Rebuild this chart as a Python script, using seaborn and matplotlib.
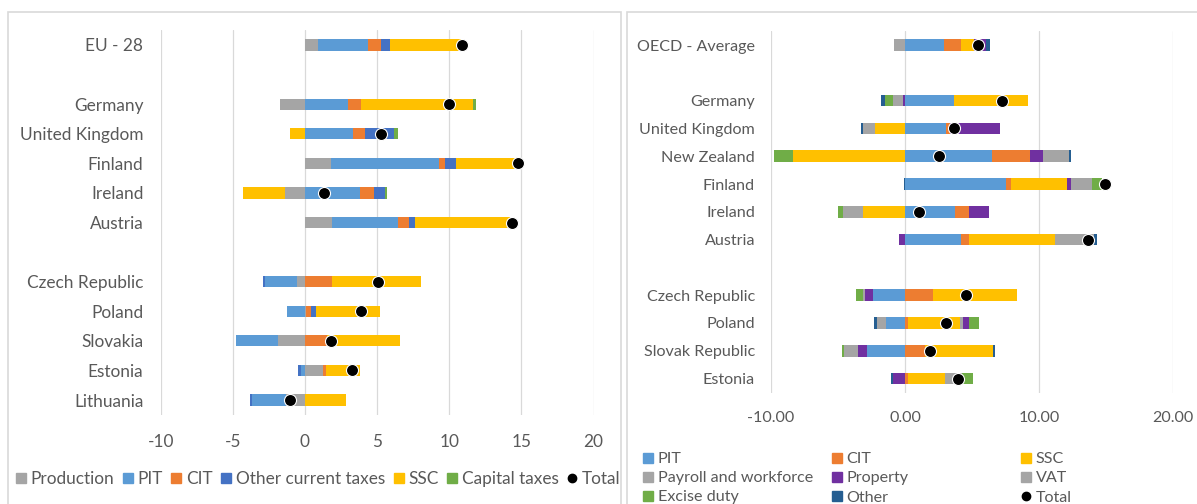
import numpy as np
import matplotlib
matplotlib.use("Agg")
import matplotlib.pyplot as plt
from matplotlib.lines import Line2D
from matplotlib.patches import Rectangle
import seaborn as sns

# ---------------- EU panel data ----------------
eu_groups = [
    ["EU - 28"],
    ["Germany", "United Kingdom", "Finland", "Ireland", "Austria"],
    ["Czech Republic", "Poland", "Slovakia", "Estonia", "Lithuania"],
]
eu_series = ["Production", "PIT", "CIT", "Other current taxes", "SSC", "Capital taxes"]
eu_production = [0.93, -1.75, 0.00, 1.83, -1.39, 1.89, -0.57, 0.08, -1.89, 1.26, -1.34]
eu_pit = [3.47, 2.98, 3.36, 7.49, 3.80, 4.56, -2.19, -1.28, -2.90, -0.25, -2.30]
eu_cit = [0.90, 0.90, 0.82, 0.38, 1.01, 0.74, 1.89, 0.35, 1.53, 0.19, 0.00]
eu_other = [0.57, 0.00, 2.00, 0.77, 0.71, 0.44, -0.14, 0.30, 0.00, -0.25, -0.16]
eu_ssc = [5.00, 7.79, -1.04, 4.18, -2.90, 6.61, 6.12, 4.48, 5.05, 2.35, 2.81]
eu_capital = [0.05, 0.19, 0.25, 0.00, 0.19, 0.00, 0.00, 0.00, 0.00, 0.00, 0.00]
eu_total = [10.90, 10.00, 5.30, 14.75, 1.34, 14.37, 5.08, 3.88, 1.78, 3.25, -1.04]
eu_ticks = [-10, -5, 0, 5, 10, 15, 20]
eu_tick_labels = ["-10", "-5", "0", "5", "10", "15", "20"]

# ---------------- OECD panel data ----------------
oecd_groups = [
    ["OECD - Average"],
    ["Germany", "United Kingdom", "New Zealand", "Finland", "Ireland", "Austria"],
    ["Czech Republic", "Poland", "Slovak Republic", "Estonia"],
]
oecd_series = ["PIT", "CIT", "SSC", "Payroll and workforce", "Property", "VAT",
               "Excise duty", "Other"]
oecd_pit = [2.91, 3.66, 3.03, 6.47, 7.51, 3.71, 4.15, -2.37, -1.43, -2.87, 0.00]
oecd_cit = [1.24, 0.00, 0.35, 2.86, 0.37, 1.07, 0.62, 2.09, 0.22, 1.49, 0.25]
oecd_ssc = [1.00, 5.52, -2.26, -8.33, 4.18, -3.16, 6.39, 6.28, 3.86, 5.07, 2.71]
oecd_payroll = [-0.82, 0.00, 0.00, 0.00, 0.00, 0.00, 0.00, 0.00, 0.28, 0.00, 0.00]
oecd_property = [0.90, -0.15, 3.72, 0.95, 0.32, 1.47, -0.47, -0.58, 0.41, -0.61, -0.88]
oecd_vat = [0.00, -0.72, -0.87, 1.99, 1.54, -1.47, 2.94, -0.19, -0.69, -1.07, 1.30]
oecd_excise = [0.00, -0.65, 0.00, -1.44, 0.80, -0.40, 0.00, -0.55, 0.77, -0.17, 0.80]
oecd_other = [0.30, -0.30, -0.15, 0.12, -0.07, 0.00, 0.25, 0.00, -0.19, 0.14, -0.17]
oecd_total = [5.42, 7.26, 3.66, 2.54, 14.95, 1.04, 13.68, 4.52, 3.06, 1.90, 3.96]
oecd_ticks = [-10, 0, 10, 20]
oecd_tick_labels = ["-10.00", "0.00", "10.00", "20.00"]

# ---------------- styling ----------------
GREY = "#A5A5A5"
BLUE = "#5B9BD5"
ORANGE = "#ED7D31"
GOLD = "#FFC000"
DBLUE = "#4472C4"
GREEN = "#70AD47"
PURPLE = "#7030A0"
NAVY = "#255E91"
TEXT = "#595959"
GRID = "#D9D9D9"

sns.set_theme(style="white")
plt.rcParams["font.family"] = ["Lato", "DejaVu Sans"]
FS_L = 12.4
FS_R = 11.6

W, H = 1197, 504
fig = plt.figure(figsize=(W / 100, H / 100), dpi=100)


def slot_positions(groups):
    """Category rows, with one empty row between groups."""
    pos, names, i = [], [], 0
    for g in groups:
        for name in g:
            pos.append(i)
            names.append(name)
            i += 1
        i += 1
    return np.array(pos, float), names


def px_axes(x0, x1, ytop, ybot):
    return fig.add_axes([x0 / W, 1 - ybot / H, (x1 - x0) / W, (ybot - ytop) / H])


def draw_panel(ax, groups, series_vals, colors, totals, ticks, tick_labels,
               bar_h, ypad, xpad, fs):
    pos, names = slot_positions(groups)
    pos_base = np.zeros(len(pos))
    neg_base = np.zeros(len(pos))
    for vals, c in zip(series_vals, colors):
        v = np.asarray(vals, float)
        left = np.where(v >= 0, pos_base, neg_base)
        ax.barh(pos, v, left=left, height=bar_h, color=c, linewidth=0, zorder=2)
        pos_base += np.clip(v, 0, None)
        neg_base += np.clip(v, None, 0)
    sns.scatterplot(x=totals, y=pos, ax=ax, color="black", s=75,
                    edgecolor="white", linewidth=0.8, zorder=5, legend=False)
    ax.set_xlim(-10, 20)
    ax.set_ylim(pos[-1] + 0.5, -0.5)
    ax.set_xticks(ticks)
    ax.set_xticklabels(tick_labels)
    ax.set_yticks(pos)
    ax.set_yticklabels(names)
    ax.set_xlabel("")
    ax.set_ylabel("")
    for s in ax.spines.values():
        s.set_visible(False)
    ax.xaxis.grid(True, color=GRID, linewidth=0.9, zorder=0)
    ax.yaxis.grid(False)
    ax.set_axisbelow(True)
    ax.tick_params(axis="y", length=0, pad=ypad, labelsize=fs, labelcolor=TEXT)
    ax.tick_params(axis="x", length=0, pad=xpad, labelsize=fs, labelcolor=TEXT)
    ax.set_facecolor("none")


# ---------------- left panel ----------------
ax1 = px_axes(160.7, 593.6, 30.2, 414.8)
draw_panel(ax1, eu_groups,
           [eu_production, eu_pit, eu_cit, eu_other, eu_ssc, eu_capital],
           [GREY, BLUE, ORANGE, DBLUE, GOLD, GREEN], eu_total,
           eu_ticks, eu_tick_labels, bar_h=0.38, ypad=12.5, xpad=14, fs=FS_L)

# ---------------- right panel ----------------
ax2 = px_axes(771, 1173, 31.1, 392.5)
draw_panel(ax2, oecd_groups,
           [oecd_pit, oecd_cit, oecd_ssc, oecd_payroll, oecd_property, oecd_vat,
            oecd_excise, oecd_other],
           [BLUE, ORANGE, GOLD, GREY, PURPLE, GREY, GREEN, NAVY], oecd_total,
           oecd_ticks, oecd_tick_labels, bar_h=0.42, ypad=11.5, xpad=13.5, fs=FS_R)

# ---------------- panel frames ----------------
fig.patches.append(Rectangle((8 / W, -0.02), (621 - 8) / W, (504 - 12) / H + 0.02,
                             transform=fig.transFigure, fill=False,
                             edgecolor=GRID, linewidth=1.2))
fig.patches.append(Rectangle((627 / W, -0.02), (1200 - 627) / W, (504 - 12) / H + 0.02,
                             transform=fig.transFigure, fill=False,
                             edgecolor=GRID, linewidth=1.2))


# ---------------- legends ----------------
def sq(c):
    return Line2D([], [], marker="s", color=c, linestyle="none", markersize=7)


def dot():
    return Line2D([], [], marker="o", color="black", linestyle="none", markersize=6)


eu_handles = [sq(c) for c in [GREY, BLUE, ORANGE, DBLUE, GOLD, GREEN]] + [dot()]
leg1 = fig.legend(eu_handles, eu_series + ["Total"], loc="center",
                  bbox_to_anchor=(318 / W, 1 - 479 / H), ncol=7, frameon=False,
                  fontsize=FS_L, handlelength=0.6, handletextpad=0.25,
                  columnspacing=0.5, borderpad=0, borderaxespad=0)
for t in leg1.get_texts():
    t.set_color(TEXT)

oecd_cols = [
    (648, [sq(BLUE), sq(GREY), sq(GREEN)], ["PIT", "Payroll and workforce", "Excise duty"]),
    (837, [sq(ORANGE), sq(PURPLE), sq(NAVY)], ["CIT", "Property", "Other"]),
    (1026, [sq(GOLD), sq(GREY), dot()], ["SSC", "VAT", "Total"]),
]
for x, hs, ls in oecd_cols:
    lg = fig.legend(hs, ls, loc="upper left", bbox_to_anchor=((x - 5) / W, 1 - 452 / H),
                    ncol=1, frameon=False, fontsize=FS_R, handlelength=0.6,
                    handletextpad=0.3, labelspacing=0.3, borderpad=0, borderaxespad=0)
    for t in lg.get_texts():
        t.set_color(TEXT)

fig.savefig("out.png", dpi=100)
